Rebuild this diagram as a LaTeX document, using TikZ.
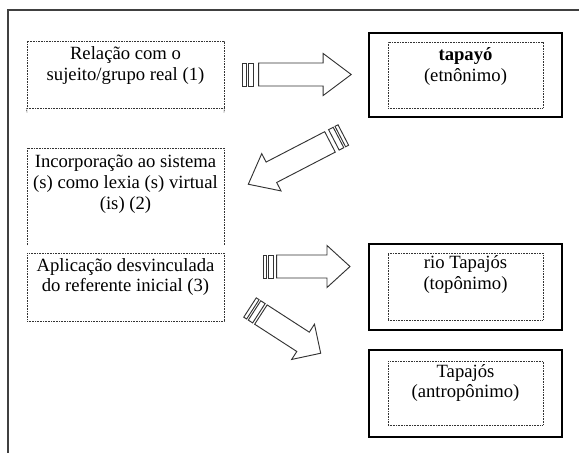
\documentclass[tikz,border=0pt]{standalone}
\usepackage{fontspec}
\setmainfont{Liberation Serif}
\newcommand{\striparrow}[5]{% #1 tail, #2 rotation, #3 length, #4 head length, #5 shaft start
\begin{scope}[shift={#1}, rotate=#2]
 \draw[arr] (0,-11.5) rectangle (3.4,11.5);
 \draw[arr] (5.4,-11.5) rectangle (10.6,11.5);
 \draw[arr] (#5,-11.5) -- ({#3-#4},-11.5) -- ({#3-#4},-21) -- (#3,0) -- ({#3-#4},21) -- ({#3-#4},11.5) -- (#5,11.5) -- cycle;
\end{scope}}
\begin{document}
\begin{tikzpicture}[x=0.75pt,y=-0.75pt,
  dotbox/.style={draw=black!80, line width=0.6pt, dash pattern=on 0.6pt off 0.6pt, inner sep=0pt},
  solidbox/.style={draw=black, line width=0.8pt, inner sep=0pt},
  arr/.style={draw=black!80, line width=0.7pt, line join=miter},
  frame/.style={draw=black!75, line width=1.1pt},
  txt/.style={font=\fontsize{14}{15.5}\selectfont, align=center, inner sep=0pt, anchor=north}]
\useasboundingbox (0,0) rectangle (579,453);
% outer frame
\coordinate (fr) at (579,10);
\coordinate (fc) at (8,10);
\coordinate (fb) at (8,453);
\draw[frame] (fr) -- (fc) -- (fb);

% left boxes
\node[dotbox, minimum width=147.75pt, minimum height=50.25pt] (b1) at (125.5,74.5) {};
\coordinate (b1l) at (27,113);
\coordinate (b1r) at (224,113);
\draw[dotbox] (b1.south west) -- (b1l);
\draw[dotbox] (b1.south east) -- (b1r);
\node[txt] (t1) at (125.5,46.5) {Relação com o\\sujeito/grupo real (1)};

\coordinate (b2a) at (27,245);
\coordinate (b2b) at (27,148);
\coordinate (b2c) at (224,148);
\coordinate (b2d) at (224,245);
\draw[dotbox] (b2a) -- (b2b) -- (b2c) -- (b2d);
\node[txt] (t2) at (125.5,155) {Incorporação ao sistema\\(s) como lexia (s) virtual\\(is) (2)};

\node[dotbox, minimum width=147.75pt, minimum height=51pt] (b3) at (125.5,287) {};
\node[txt] (t3) at (125.5,258) {Aplicação desvinculada\\do referente inicial (3)};

% right boxes
\node[solidbox, minimum width=144.75pt, minimum height=63pt] (o1) at (465.5,75) {};
\node[dotbox, minimum width=116.25pt, minimum height=49.5pt] (i1) at (465.5,75) {};
\node[txt] (r1) at (465.5,47.5) {\textbf{tapayó}\\(etnônimo)};

\node[solidbox, minimum width=144.75pt, minimum height=64.5pt] (o2) at (465.5,287) {};
\node[dotbox, minimum width=116.25pt, minimum height=50.25pt] (i2) at (465.5,286.5) {};
\node[txt] (r2) at (465.5,255.5) {rio Tapajós\\(topônimo)};

\node[solidbox, minimum width=144.75pt, minimum height=65.25pt] (o3) at (465.5,393.5) {};
\node[dotbox, minimum width=116.25pt, minimum height=48pt] (i3) at (465.5,393) {};
\node[txt] (r3) at (465.5,364) {Tapajós\\(antropônimo)};

% block arrows
\striparrow{(242.7,74.5)}{0}{108.5}{28}{16}
\striparrow{(343.3,135)}{207.4}{107}{26}{15}
\striparrow{(263.3,266.5)}{0}{86.7}{23}{13.4}
\striparrow{(250,307.5)}{-32.9}{84.2}{21}{13}
\end{tikzpicture}
\end{document}
